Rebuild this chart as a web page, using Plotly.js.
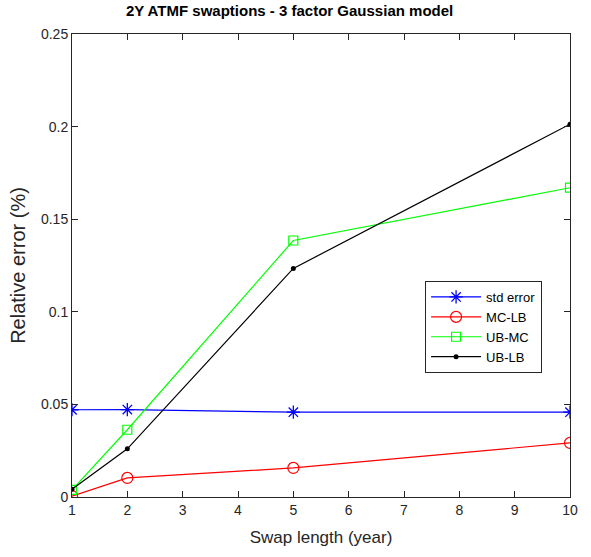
<!DOCTYPE html>
<html><head><meta charset="utf-8">
<script src="https://cdn.plot.ly/plotly-3.0.1.min.js"></script>
<style>body{margin:0;padding:0;background:#fff}#chart{width:591px;height:557px}</style>
</head><body><div id="chart"></div>
<script>
const swapLength = [1, 2, 5, 10];
const stdError = [0.0471, 0.0472, 0.0458, 0.0458];
const mcLb = [0.0005, 0.0103, 0.0157, 0.0292];
const ubMc = [0.0038, 0.0363, 0.1385, 0.167];
const ubLb = [0.0042, 0.026, 0.1234, 0.2013];
const xTicks = [1,2,3,4,5,6,7,8,9,10];
const yTicks = [0, 0.05, 0.1, 0.15, 0.2, 0.25];
const yTickText = ['0','0.05','0.1','0.15','0.2','0.25'];

const font = 'Liberation Sans, Arial, sans-serif';
const traces = [
  {x: swapLength, y: stdError, name: 'std error', mode: 'lines+markers',
   line: {color: '#0000ff', width: 1.2}, marker: {symbol: 'asterisk-open', size: 11, color: '#0000ff', line: {color: '#0000ff', width: 1.3}}},
  {x: swapLength, y: mcLb, name: 'MC-LB', mode: 'lines+markers',
   line: {color: '#ff0000', width: 1.2}, marker: {symbol: 'circle-open', size: 11, color: '#ff0000', line: {color: '#ff0000', width: 1.2}}},
  {x: swapLength, y: ubMc, name: 'UB-MC', mode: 'lines+markers',
   line: {color: '#00ff00', width: 1.2}, marker: {symbol: 'square-open', size: 9, color: '#00ff00', line: {color: '#00ff00', width: 1.2}}},
  {x: swapLength, y: ubLb, name: 'UB-LB', mode: 'lines+markers',
   line: {color: '#000000', width: 1.2}, marker: {symbol: 'circle', size: 5, color: '#000000'}}
];
const axisCommon = {showline: true, mirror: 'ticks', linecolor: '#262626', linewidth: 1,
  ticks: 'inside', ticklen: 6, tickcolor: '#262626', showgrid: false, zeroline: false,
  tickfont: {family: font, size: 14, color: '#262626'}};
const layout = {
  width: 591, height: 557,
  margin: {l: 72, r: 21, t: 34, b: 60},
  paper_bgcolor: '#fff', plot_bgcolor: '#fff',
  title: {text: '<b>2Y ATMF swaptions - 3 factor Gaussian model</b>', font: {family: font, size: 15, color: '#000'}, x: 0.49, xanchor: 'center', y: 0.99, yanchor: 'top'},
  xaxis: Object.assign({}, axisCommon, {range: [1, 10], tickvals: xTicks,
    title: {text: 'Swap length (year)', font: {family: font, size: 17, color: '#262626'}, standoff: 14}}),
  yaxis: Object.assign({}, axisCommon, {range: [0, 0.25], tickvals: yTicks, ticktext: yTickText,
    title: {text: 'Relative error (%)', font: {family: font, size: 20, color: '#262626'}, standoff: 9}}),
  showlegend: true,
  legend: {x: 0.709, y: 0.4665, xanchor: 'left', yanchor: 'top', bgcolor: '#fff', bordercolor: '#262626', borderwidth: 1,
    font: {family: font, size: 13, color: '#000'}, tracegroupgap: 0, itemwidth: 50}
};
Plotly.newPlot('chart', traces, layout, {displayModeBar: false});
</script></body></html>
